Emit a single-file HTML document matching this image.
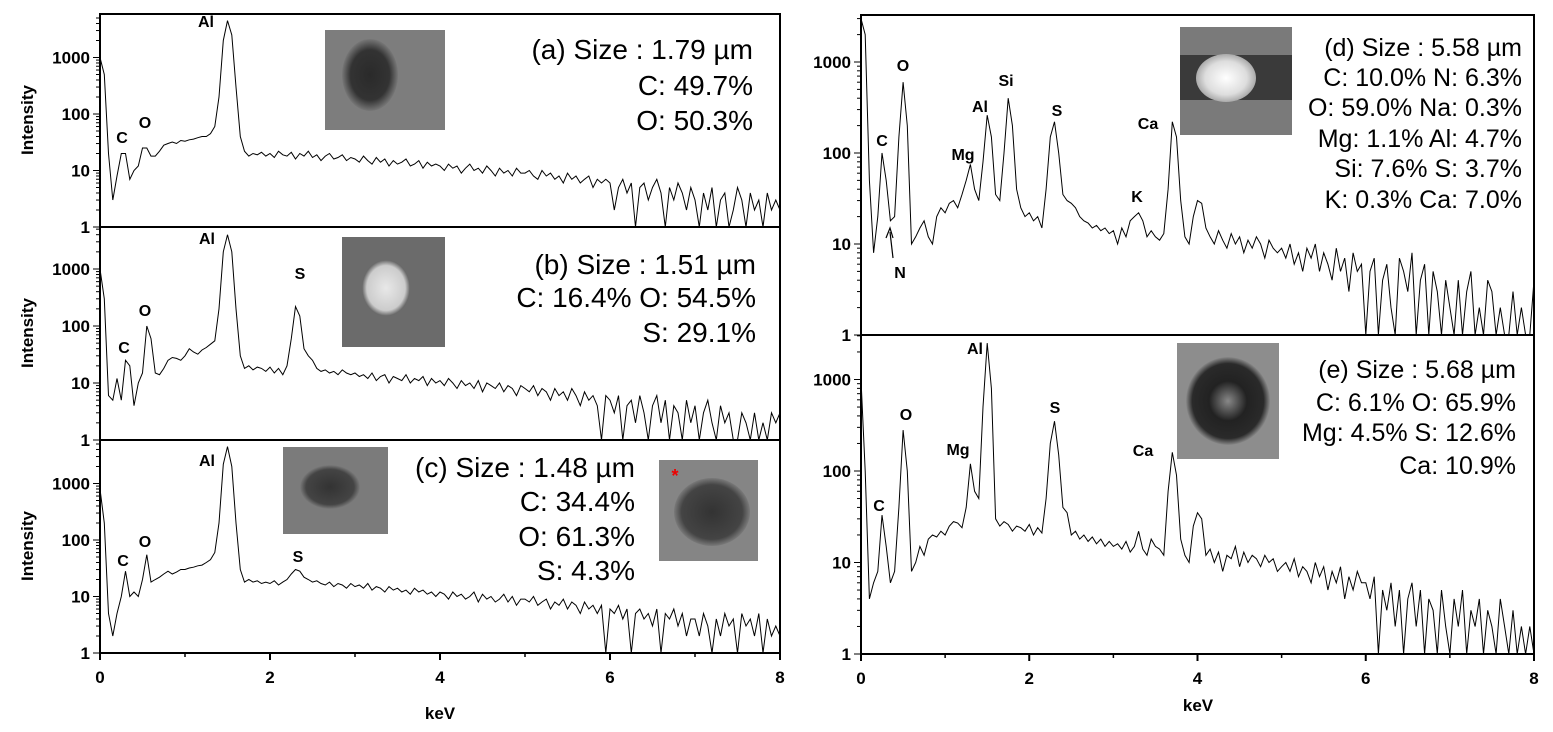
<!DOCTYPE html>
<html><head><meta charset="utf-8">
<style>
html,body{margin:0;padding:0;background:#fff;}
svg{display:block;font-family:"Liberation Sans",Arial,sans-serif;}
.lbl{font-weight:bold;font-size:16px;}
.tk{font-weight:bold;font-size:17px;}
.info{font-size:28px;}
.infod{font-size:25px;}
</style></head>
<body>
<svg id="fig" width="1553" height="732" viewBox="0 0 1553 732">
<defs>
<radialGradient id="gA"><stop offset="0" stop-color="#2a2a2a"/><stop offset="0.7" stop-color="#333"/><stop offset="1" stop-color="#777"/></radialGradient>
<radialGradient id="gB"><stop offset="0" stop-color="#e8e8e8"/><stop offset="0.8" stop-color="#ccc"/><stop offset="1" stop-color="#666"/></radialGradient>
<radialGradient id="gC"><stop offset="0" stop-color="#333"/><stop offset="0.8" stop-color="#444"/><stop offset="1" stop-color="#7a7a7a"/></radialGradient>
<radialGradient id="gD"><stop offset="0" stop-color="#fff"/><stop offset="0.7" stop-color="#ddd"/><stop offset="1" stop-color="#aaa"/></radialGradient>
<radialGradient id="gE"><stop offset="0" stop-color="#888"/><stop offset="0.45" stop-color="#222"/><stop offset="0.85" stop-color="#2a2a2a"/><stop offset="1" stop-color="#888"/></radialGradient>
</defs>
</svg>
<script>
// energies sampled every 0.05 keV from 0 to 8
const energyStep = 0.05;
const specA = [1000,500,20,3,8,20,20,7,10,12,25,25,18,18,22,28,30,32,30,34,
33,35,36,38,40,40,45,60,200,2000,4500,2500,300,40,22,18,20,19,21,18,
20,17,22,19,18,21,16,20,18,22,17,19,15,18,20,16,17,19,15,17,
16,14,18,15,13,17,14,16,12,15,13,14,16,12,13,15,11,14,12,13,
12,10,13,11,12,9,11,13,10,11,9,12,10,8,11,9,10,8,11,9,
9,10,8,7,10,8,9,7,8,6,9,7,8,6,7,8,5,7,6,7,
6,2,5,7,4,6,1,5,6,3,5,7,4,1,5,3,6,4,2,5,
3,1,4,2,5,1,3,4,1,2,5,3,1,4,2,3,1,4,2,3,2];
const specB = [1000,300,6,5,12,5,25,20,4,10,15,100,60,15,14,18,25,28,27,25,
30,40,35,32,38,42,48,55,200,2000,4000,2000,200,30,18,20,17,19,18,16,
19,15,18,14,20,60,220,150,40,30,25,18,16,17,15,16,14,17,15,14,
15,13,14,12,15,11,13,14,10,13,12,11,14,10,12,11,13,9,12,10,
11,9,12,10,8,11,9,10,8,11,7,10,9,8,10,7,9,8,6,9,
8,7,9,6,8,7,5,8,6,7,5,8,6,4,7,5,6,4,1,6,
5,3,6,1,4,5,2,6,3,1,4,6,2,5,1,4,3,1,5,2,
4,1,3,5,2,1,4,2,3,1,1,3,2,1,3,1,2,1,3,2,3];
const specC = [800,200,5,2,5,10,28,10,12,10,20,55,18,20,22,25,28,25,27,30,
30,32,33,35,36,40,45,60,200,2200,4500,2000,200,30,18,20,18,19,17,18,
17,19,16,18,20,25,30,28,22,20,18,19,17,16,18,15,17,16,14,17,
15,16,14,17,13,15,14,12,15,13,14,12,13,11,14,12,13,11,12,10,
12,11,9,12,10,11,9,10,12,8,11,9,10,8,9,11,8,10,7,9,
9,8,10,7,8,9,6,8,7,9,6,8,7,5,8,6,7,5,7,1,
6,5,7,4,6,1,5,6,4,5,3,6,1,5,4,6,3,5,2,4,
4,2,5,3,1,4,2,5,3,4,1,5,3,4,2,5,1,4,2,3,2];
const specD = [3000,2000,50,8,20,100,50,18,20,150,600,200,10,12,15,18,12,10,20,25,
22,28,30,25,35,50,75,40,30,80,260,150,35,30,100,400,200,40,25,20,
22,18,20,15,40,150,220,100,35,30,28,25,20,18,17,15,16,14,15,13,
14,10,15,12,18,20,22,18,12,14,12,11,13,40,220,150,30,12,10,20,
30,28,15,12,10,14,11,9,13,10,12,8,11,9,12,10,7,11,9,8,
9,7,10,6,8,5,9,7,10,5,8,6,4,9,5,7,3,8,5,6,
1,5,7,1,4,6,2,1,7,5,3,8,1,4,6,1,5,3,1,4,
2,1,4,1,3,5,1,2,1,4,3,1,2,1,1,3,1,2,1,1,4];
const specE = [1000,100,4,6,8,33,15,6,8,40,280,100,8,10,15,12,18,20,19,22,
20,25,28,27,24,40,120,60,50,500,2500,800,30,25,28,26,22,25,24,22,
26,20,24,21,50,200,350,150,40,35,20,22,18,20,17,19,16,18,15,17,
15,16,14,17,13,15,22,14,12,18,15,14,12,60,160,90,18,12,10,25,
35,30,12,14,10,13,8,12,11,15,9,13,10,12,11,9,12,10,11,8,
9,10,8,11,7,9,8,6,10,7,9,5,8,6,9,4,7,5,8,6,
6,4,7,1,5,3,6,2,5,1,4,6,2,5,1,4,3,1,5,2,
1,4,2,5,1,3,2,4,1,3,2,1,4,2,1,3,1,2,1,2,1];
const xTicks = [0,2,4,6,8];
const xMinorTicks = [1,3,5,7];
const yTicks = [1,10,100,1000];
const yTickLabels = ["1","10","100","1000"];

const NS="http://www.w3.org/2000/svg";
const svg=document.getElementById('fig');
function mk(tag,attrs,parent){const e=document.createElementNS(NS,tag);for(const k in attrs)e.setAttribute(k,attrs[k]);(parent||svg).appendChild(e);return e;}

const panels=[
 {id:'a',data:specA,x0:100,x1:780,top:14,bot:227,dec:56.5},
 {id:'b',data:specB,x0:100,x1:780,top:227,bot:440,dec:57},
 {id:'c',data:specC,x0:100,x1:780,top:440,bot:653,dec:56.5},
 {id:'d',data:specD,x0:861,x1:1534,top:15,bot:335,dec:91},
 {id:'e',data:specE,x0:861,x1:1534,top:335,bot:654,dec:91.5}
];
function xScale(p,e){return p.x0+(p.x1-p.x0)*e/8;}
function yScale(p,v){const y=p.bot-Math.log10(Math.max(v,1))*p.dec;return Math.max(y,p.top+1);}

panels.forEach(p=>{
 const g=mk('g',{});
 
 
 let d='';
 p.data.forEach((v,i)=>{d+=(i?'L':'M')+xScale(p,i*energyStep).toFixed(1)+' '+yScale(p,v).toFixed(1);});
 const path=mk('path',{d:d,fill:'none',stroke:'#000','stroke-width':1},g);
 
 
 const fr=mk('rect',{x:p.x0,y:p.top,width:p.x1-p.x0,height:p.bot-p.top,fill:'none',stroke:'#000','stroke-width':2},g);
 
 
 const maxDec=(p.bot-p.top)/p.dec;
 for(let k=0;k<4;k++){for(let m=1;m<10;m++){const lv=k+Math.log10(m);if(lv>maxDec)continue;const y=p.bot-lv*p.dec;
  mk('line',{x1:p.x0-(m===1?7:4),x2:p.x0,y1:y,y2:y,stroke:'#000','stroke-width':1},g);}}
 yTicks.forEach((t,i)=>{const y=p.bot-Math.log10(t)*p.dec;
  const tx=mk('text',{x:p.x0-10,y:y+6,'text-anchor':'end',class:'tk'},g);tx.textContent=yTickLabels[i];
  
  });
});

[{x0:100,x1:780,y:653,kx:440,ky:719},{x0:861,x1:1534,y:654,kx:1198,ky:711}].forEach((a,ai)=>{
 xTicks.forEach(t=>{const x=a.x0+(a.x1-a.x0)*t/8;mk('line',{x1:x,x2:x,y1:a.y,y2:a.y+7,stroke:'#000','stroke-width':2});
  const tx=mk('text',{x:x,y:a.y+30,'text-anchor':'middle',class:'tk'});tx.textContent=t;
  
  });
 xMinorTicks.forEach(t=>{const x=a.x0+(a.x1-a.x0)*t/8;mk('line',{x1:x,x2:x,y1:a.y,y2:a.y+4,stroke:'#000','stroke-width':1.5});});
 const k=mk('text',{x:a.kx,y:a.ky,'text-anchor':'middle',class:'tk'});k.textContent='keV';
 
 
});
[120,333,546].forEach(cy=>{const t=mk('text',{x:0,y:0,transform:'translate(33,'+cy+') rotate(-90)','text-anchor':'middle',style:'font-weight:bold;font-size:17px'});t.textContent='Intensity';
 
 });

const peakLabels=[['Al',206,27],['C',122,143],['O',145,128],
['Al',207,244],['C',124,353],['O',145,316],['S',300,279],
['Al',207,466],['O',145,547],['C',123,566],['S',298,562],
['C',882,146],['O',903,71],['Mg',963,160],['Al',980,112],['Si',1006,86],['S',1057,116],['Ca',1148,129],['K',1137,202],['N',900,278],
['Al',975,354],['O',906,420],['Mg',958,455],['S',1055,413],['Ca',1143,456],['C',879,511]];
peakLabels.forEach(l=>{const t=mk('text',{x:l[1],y:l[2],'text-anchor':'middle',class:'lbl'});t.textContent=l[0];
 
 });
mk('line',{x1:893,y1:258,x2:890,y2:232,stroke:'#000','stroke-width':1.2});
mk('path',{d:'M886 238 L890 228 L893 238',fill:'none',stroke:'#000','stroke-width':1.2});

function inset(name,x,y,w,h,bg,grad,ex,ey,rx,ry){const g=mk('g',{});
 
 
 mk('rect',{x:x,y:y,width:w,height:h,fill:bg},g);
 mk('ellipse',{cx:ex,cy:ey,rx:rx,ry:ry,fill:'url(#'+grad+')'},g);return g;}
inset('sem-inset-a',325,30,120,100,'#7d7d7d','gA',370,75,28,36);
inset('sem-inset-b',342,237,103,110,'#6b6b6b','gB',386,288,24,28);
inset('sem-inset-c1',283,447,105,87,'#7b7b7b','gC',330,487,30,22);
const gc2=inset('sem-inset-c2',659,460,99,101,'#858585','gC',712,512,38,34);
const st=mk('text',{x:675,y:482,'text-anchor':'middle',fill:'#e00',style:'font-size:18px;font-weight:bold'},gc2);st.textContent='*';
const gd=mk('g',{});
mk('rect',{x:1180,y:27,width:112,height:108,fill:'#7a7a7a'},gd);
mk('rect',{x:1180,y:55,width:112,height:45,fill:'#3a3a3a'},gd);
mk('ellipse',{cx:1226,cy:78,rx:30,ry:24,fill:'url(#gD)'},gd);
inset('sem-inset-e',1177,343,102,116,'#8d8d8d','gE',1228,401,42,44);

const infos=[
 ['info-a','info',753,[[59,'(a) Size : 1.79 µm'],[95,'C: 49.7%'],[130,'O: 50.3%']]],
 ['info-b','info',756,[[274,'(b) Size : 1.51 µm'],[307,'C: 16.4% O: 54.5%'],[342,'S: 29.1%']]],
 ['info-c','info',635,[[477,'(c) Size : 1.48 µm'],[511,'C: 34.4% '],[546,'O: 61.3%'],[580,'S: 4.3%']]],
 ['info-d','infod',1522,[[56,'(d) Size : 5.58 µm'],[86,'C: 10.0% N: 6.3%'],[116,'O: 59.0% Na: 0.3%'],[147,'Mg: 1.1% Al: 4.7%'],[177,'Si: 7.6% S: 3.7%'],[208,'K: 0.3% Ca: 7.0%']]],
 ['info-e','infod',1516,[[378,'(e) Size : 5.68 µm'],[411,'C: 6.1% O: 65.9%'],[441,'Mg: 4.5% S: 12.6%'],[474,'Ca: 10.9%']]]
];
infos.forEach(b=>{const g=mk('g',{});
 b[3].forEach(l=>{const t=mk('text',{x:b[2],y:l[0],'text-anchor':'end',class:b[1]},g);t.textContent=l[1];});});
</script>
</body></html>
